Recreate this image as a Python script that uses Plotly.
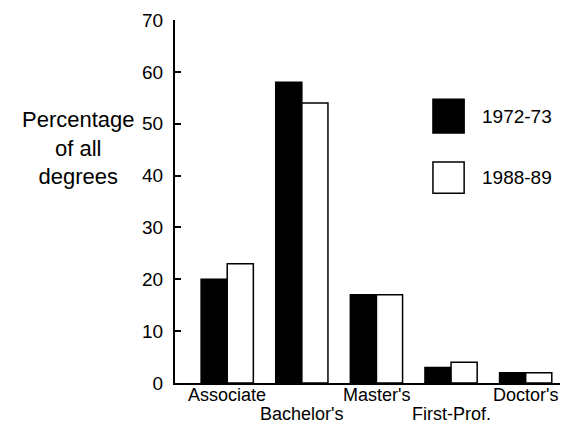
import plotly.graph_objects as go

# --- данные ---------------------------------------------------------------
categories = ["Associate", "Bachelor's", "Master's", "First-Prof.", "Doctor's"]
values_1972 = [20, 58, 17, 3, 2]
values_1988 = [23, 54, 17, 4, 2]
y_ticks = [0, 10, 20, 30, 40, 50, 60, 70]

x_pos = list(range(len(categories)))

FONT = "Liberation Sans, Arial, sans-serif"
INK = "#000000"

fig = go.Figure()
fig.add_trace(
    go.Bar(
        x=x_pos,
        y=values_1972,
        name="1972-73",
        marker=dict(color=INK, line=dict(color=INK, width=1.5)),
    )
)
fig.add_trace(
    go.Bar(
        x=x_pos,
        y=values_1988,
        name="1988-89",
        marker=dict(color="#ffffff", line=dict(color=INK, width=1.5)),
    )
)

fig.update_layout(
    width=567,
    height=427,
    margin=dict(l=175, r=7, t=20, b=44),
    paper_bgcolor="#ffffff",
    plot_bgcolor="#ffffff",
    barmode="group",
    bargap=0.30,
    bargroupgap=0,
    showlegend=False,
    font=dict(family=FONT, color=INK, size=18),
)

fig.update_xaxes(
    range=[-0.70, 4.46],
    tickvals=x_pos,
    showticklabels=False,
    automargin=False,
    ticks="",
    showgrid=False,
    zeroline=False,
    showline=True,
    linecolor=INK,
    linewidth=2,
)
fig.update_yaxes(
    range=[0, 70],
    tickvals=y_ticks,
    automargin=False,
    ticks="inside",
    ticklen=6,
    tickwidth=1.5,
    tickcolor=INK,
    ticklabelstandoff=6,
    showgrid=False,
    zeroline=False,
    showline=True,
    linecolor=INK,
    linewidth=2,
    tickfont=dict(size=19),
)

# подписи категорий в шахматном порядке (чётные — первая строка, нечётные — вторая)
for i, cat in enumerate(categories):
    fig.add_annotation(
        x=x_pos[i], y=0, xref="x", yref="paper",
        text=cat, showarrow=False, xanchor="center", yanchor="middle",
        yshift=-12 if i % 2 == 0 else -31,
        font=dict(size=18, color=INK),
    )

# подпись оси Y слева, три строки по центру
fig.add_annotation(
    x=-0.25, y=0.647, xref="paper", yref="paper",
    text="Percentage<br>of all<br>degrees",
    showarrow=False, xanchor="center", yanchor="middle", align="center",
    font=dict(size=22, color=INK),
)

# легенда: большие квадраты + подписи
legend_items = [("1972-73", INK, 0.782, 0.689), ("1988-89", "#ffffff", 0.609, 0.523)]
for label, fill, y_top, y_bot in legend_items:
    fig.add_shape(
        type="rect", xref="paper", yref="paper",
        x0=0.670, x1=0.751, y0=y_bot, y1=y_top,
        fillcolor=fill, line=dict(color=INK, width=1.5),
    )
    fig.add_annotation(
        x=0.792, y=(y_top + y_bot) / 2, xref="paper", yref="paper",
        text=label, showarrow=False, xanchor="left", yanchor="middle",
        font=dict(size=19, color=INK),
    )

# убираем стандартный отступ body, чтобы график занял окно целиком
fig.write_html(
    "out.html",
    config={"displayModeBar": False},
    post_script="document.body.style.margin='0';",
)
